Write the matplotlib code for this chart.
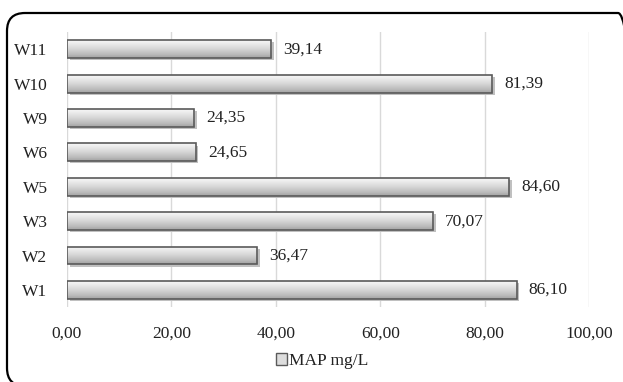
import numpy as np
import matplotlib.pyplot as plt
from matplotlib.patches import FancyBboxPatch, Patch

plt.rcParams['font.family'] = ['Liberation Serif', 'DejaVu Serif']

samples = ['W1', 'W2', 'W3', 'W5', 'W6', 'W9', 'W10', 'W11']
map_values = [86.10, 36.47, 70.07, 84.60, 24.65, 24.35, 81.39, 39.14]
x_ticks = [0, 20, 40, 60, 80, 100]

fs = 12.5

fig = plt.figure(figsize=(6.23, 3.82), dpi=100)
ax = fig.add_axes([0.1075, 0.196, 0.8385, 0.72])

y = np.arange(len(samples))
bar_h = 0.52

# soft drop shadow under each bar
ax.barh(y - 0.06, map_values, height=bar_h, left=0.5, color='#c0c0c0',
        edgecolor='none', zorder=2)
bars = ax.barh(y, map_values, height=bar_h, color='#e2e2e2',
               edgecolor='#5a5a5a', linewidth=1.2, zorder=3)

# vertical light-to-grey gradient inside each bar
grad = np.linspace(0, 1, 64).reshape(-1, 1)
for bar, v, yy in zip(bars, map_values, y):
    im = ax.imshow(grad, extent=(0, v, yy - bar_h / 2, yy + bar_h / 2),
                   aspect='auto', cmap='Greys', vmin=-0.2, vmax=2.4,
                   origin='upper', zorder=3.5)
    im.set_clip_path(bar)
    ax.text(v + 2.3, yy, f'{v:.2f}'.replace('.', ','), va='center',
            ha='left', fontsize=fs, color='#222222', zorder=5)
for bar in bars:
    bar.set_facecolor('none')
    bar.set_zorder(4)

ax.set_xlim(0, 100)
ax.set_ylim(-0.5, len(samples) - 0.5)
ax.set_yticks(y)
ax.set_yticklabels(samples, fontsize=fs)
ax.set_xticks(x_ticks)
ax.set_xticklabels([f'{t:.2f}'.replace('.', ',') for t in x_ticks], fontsize=fs)
ax.tick_params(axis='both', length=0, colors='#222222')
ax.tick_params(axis='x', pad=13)
ax.tick_params(axis='y', pad=14)
ax.grid(axis='x', color='#d9d9d9', linewidth=1)
ax.set_axisbelow(True)
for s in ax.spines.values():
    s.set_visible(False)

fig.legend(handles=[Patch(facecolor='#dddddd', edgecolor='#5a5a5a')],
           labels=['MAP mg/L'], loc='center', bbox_to_anchor=(0.517, 0.055),
           frameon=False, fontsize=fs, handlelength=0.65,
           handleheight=0.65, handletextpad=0.1, labelcolor='#222222')

# rounded outer frame, running off the right and bottom edges
frame = FancyBboxPatch((0.07, -0.04), 6.29, 3.73,
                       boxstyle='round,pad=0,rounding_size=0.18',
                       transform=fig.dpi_scale_trans, fill=False,
                       edgecolor='black', linewidth=1.6)
fig.patches.append(frame)

fig.savefig('out.png', dpi=100)
